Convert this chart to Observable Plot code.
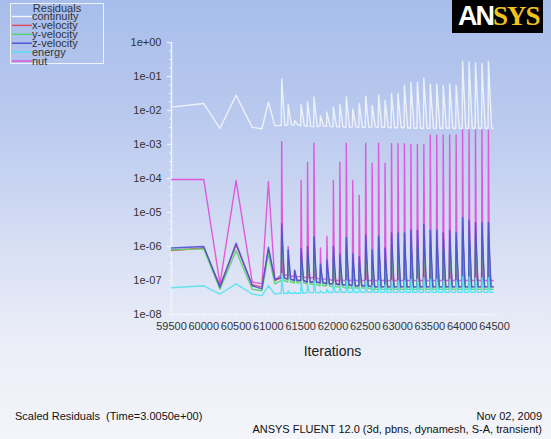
<!DOCTYPE html>
<html><head><meta charset="utf-8">
<script src="https://cdn.jsdelivr.net/npm/d3@7"></script>
<script src="https://cdn.jsdelivr.net/npm/@observablehq/plot@0.6"></script>
<style>
html,body{margin:0;padding:0;}
body{width:551px;height:439px;overflow:hidden;position:relative;font-family:"Liberation Sans",Arial,sans-serif;
 background:linear-gradient(to bottom,#a7bdeb 0%,#bccbef 30%,#d6def4 55%,#ebeef8 78%,#f4f5fa 100%);}
#chart{position:absolute;left:0;top:0;}
#chart svg{background:transparent;}
.abs{position:absolute;white-space:nowrap;}
#legend{position:absolute;left:10px;top:3px;width:92px;height:59px;border:1px solid #eef2fb;}
#logo{position:absolute;left:452px;top:0;width:91px;height:33px;background:#000;}
#logo span{position:absolute;top:3px;font-weight:bold;font-size:27px;line-height:27px;}
</style></head>
<body>
<div id="chart"></div>
<div id="legend"></div>
<div id="logo"><span style="left:6px;color:#fff;font-family:'Liberation Sans';letter-spacing:-2px">AN</span><span style="left:41px;color:#f2c31c;font-family:'Liberation Serif';letter-spacing:-1px">SYS</span></div>
<div class="abs" style="left:0;width:551px;top:343px;text-align:center;padding-left:114px;box-sizing:border-box;font-size:14px;color:#222">Iterations</div>
<div class="abs" style="left:15px;top:410px;font-size:11px;color:#111">Scaled Residuals&nbsp; (Time=3.0050e+00)</div>
<div class="abs" style="right:9px;top:410px;font-size:11px;color:#111">Nov 02, 2009</div>
<div class="abs" style="right:9px;top:423px;font-size:11px;color:#111">ANSYS FLUENT 12.0 (3d, pbns, dynamesh, S-A, transient)</div>
<script>
// ---- series ----
const seriesNames = ["continuity","x-velocity","y-velocity","z-velocity","energy","nut"];
const seriesColors = ["#f3f5fb","#e0475d","#55d26e","#4a4fd6","#52e2ee","#e04cd9"];
const drawOrder = ["nut","continuity","x-velocity","y-velocity","z-velocity","energy"];

// ---- early (coarse) history ----
const earlyIter = [59500, 60000, 60250, 60500, 60750, 60900, 61000, 61100];
const earlyContinuity = [1.26e-2, 1.6e-2, 3.0e-3, 2.8e-2, 3.2e-3, 2.9e-3, 1.75e-2, 3.6e-3];
const earlyXvel = [7.6e-7, 9.0e-7, 7.0e-8, 1.1e-6, 7.5e-8, 6.5e-8, 8.0e-7, 1.0e-7];
const earlyYvel = [8.0e-7, 8.5e-7, 5.5e-8, 7.5e-7, 5.5e-8, 5.0e-8, 6.0e-7, 8.0e-8];
const earlyZvel = [9.0e-7, 1.0e-6, 6.3e-8, 1.25e-6, 7.0e-8, 5.7e-8, 9.5e-7, 1.1e-7];
const earlyEnergy = [6.1e-8, 7.0e-8, 4.0e-8, 8.0e-8, 4.0e-8, 3.6e-8, 7.0e-8, 4.0e-8];
const earlyNut = [9.3e-5, 9.3e-5, 8.0e-8, 8.7e-5, 9.0e-8, 8.0e-8, 8.0e-5, 1.0e-7];

// ---- time steps (one spike per step) ----
const stepIter = [61200,61300,61400,61500,61600,61700,61800,61900,62000,62100,62200,62300,62400,62500,62600,62700,62800,62900,63000,63100,63200,63300,63400,63500,63600,63700,63800,63900,64000,64100,64200,64300,64400];
const endIter = 64480;
const peakContinuity = [0.085,0.015,0.005,0.015,0.018,0.025,0.007,0.009,0.0125,0.015,0.025,0.011,0.016,0.026,0.014,0.028,0.02,0.032,0.032,0.055,0.068,0.068,0.089,0.06,0.06,0.055,0.06,0.055,0.28,0.27,0.25,0.24,0.28];
const floorContinuity = [0.0036,0.0038,0.0038,0.0036,0.0034,0.0033,0.0035,0.0034,0.0033,0.0033,0.0032,0.0033,0.0032,0.0032,0.0033,0.0032,0.0032,0.0031,0.0031,0.0031,0.003,0.003,0.003,0.003,0.003,0.003,0.003,0.003,0.003,0.003,0.003,0.003,0.003];
const peakZvel = [4.6e-6,8e-7,2e-7,8.6e-7,1e-6,1.9e-6,3e-7,4e-7,1e-6,6e-7,1.8e-6,6e-7,5e-7,2.2e-6,8e-7,2e-6,9e-7,2.5e-6,2.5e-6,2.5e-6,3e-6,3e-6,4.5e-6,3e-6,3e-6,2.5e-6,3e-6,2.5e-6,7e-6,6e-6,5e-6,5e-6,5e-6];
const peakXvel = [2.5e-6,4e-7,1.5e-7,5e-7,6e-7,9e-7,2e-7,2.5e-7,5e-7,3.5e-7,9e-7,3.5e-7,3e-7,1e-6,4e-7,9e-7,4.5e-7,1.1e-6,1.1e-6,1.2e-6,1.3e-6,1.3e-6,1.8e-6,1.3e-6,1.3e-6,1.1e-6,1.3e-6,1.1e-6,2.8e-6,2.5e-6,2.2e-6,2.2e-6,2.2e-6];
const peakYvel = [2e-6,3e-7,1.3e-7,4e-7,4.5e-7,7e-7,1.7e-7,2e-7,4e-7,3e-7,7e-7,3e-7,2.5e-7,8e-7,3.5e-7,7e-7,3.5e-7,8e-7,8e-7,9e-7,1e-6,1e-6,1.4e-6,1e-6,1e-6,9e-7,1e-6,9e-7,2.2e-6,2e-6,1.8e-6,1.8e-6,1.8e-6];
const floorVel = [1.2e-7,1.1e-7,1e-7,1e-7,9e-8,9e-8,8.5e-8,8e-8,8e-8,7.5e-8,7.5e-8,7e-8,7e-8,7e-8,6.5e-8,6.5e-8,6.5e-8,6.5e-8,6.5e-8,6.5e-8,6.5e-8,6.5e-8,6.5e-8,6.5e-8,6.5e-8,6.5e-8,6.5e-8,6.5e-8,6.5e-8,6.5e-8,6.5e-8,6.5e-8,6.5e-8];
const floorYvel = [1e-7,9e-8,8.5e-8,8.5e-8,8e-8,7.5e-8,7e-8,7e-8,6.5e-8,6.5e-8,6e-8,6e-8,6e-8,6e-8,5.5e-8,5.5e-8,5.5e-8,5.5e-8,5.5e-8,5.5e-8,5.5e-8,5.5e-8,5.5e-8,5.5e-8,5.5e-8,5.5e-8,5.5e-8,5.5e-8,5.5e-8,5.5e-8,5.5e-8,5.5e-8,5.5e-8];
const peakEnergy = [1.6e-7,5e-8,4.5e-8,9e-8,8e-8,1e-7,5e-8,5.5e-8,8e-8,7e-8,1e-7,7e-8,6.5e-8,1e-7,7e-8,1e-7,7.5e-8,1e-7,1e-7,1e-7,1.1e-7,1.1e-7,1.2e-7,1.1e-7,1.1e-7,1e-7,1.1e-7,1e-7,1.3e-7,1.3e-7,1.2e-7,1.2e-7,1.2e-7];
const floorEnergy = [4.2e-8,4.2e-8,4.2e-8,4.2e-8,4.4e-8,4.4e-8,4.4e-8,4.4e-8,4.5e-8,4.5e-8,4.5e-8,4.5e-8,4.5e-8,4.5e-8,4.5e-8,4.5e-8,4.5e-8,4.5e-8,4.5e-8,4.5e-8,4.5e-8,4.5e-8,4.5e-8,4.5e-8,4.5e-8,4.5e-8,4.5e-8,4.5e-8,4.5e-8,4.5e-8,4.5e-8,4.5e-8,4.5e-8];
const peakNut = [1.2e-3,1e-6,2e-7,8.7e-5,3e-4,1.1e-3,9e-7,2e-6,8.7e-5,3e-4,1.1e-3,8.7e-5,3.2e-5,1.1e-3,2.8e-4,1.1e-3,2.8e-4,1.05e-3,1.05e-3,1.05e-3,1e-3,1e-3,1e-3,1.9e-3,1.9e-3,1.9e-3,1.9e-3,1.9e-3,2.7e-3,2.7e-3,2.7e-3,2.7e-3,2.6e-3];
const floorNut = [1.5e-7,1.4e-7,1.3e-7,1.3e-7,1.2e-7,1.2e-7,1.1e-7,1.1e-7,1e-7,1e-7,1e-7,1e-7,1e-7,1e-7,1e-7,1e-7,1e-7,1e-7,1e-7,1e-7,1e-7,1e-7,1e-7,1e-7,1e-7,1e-7,1e-7,1e-7,1e-7,1e-7,1e-7,1e-7,1e-7];

// iterations after step start at which the residual reaches its peak / settles
const riseLag = 6;
const settleLag = {"continuity":55,"x-velocity":45,"y-velocity":45,"z-velocity":45,"energy":35,"nut":22};

// ---- axes ----
const xTicks = [59500,60000,60500,61000,61500,62000,62500,63000,63500,64000,64500];
const xTickLabels = ["59500","60000","60500","61000","61500","62000","62500","63000","63500","64000","64500"];
const xMinor = d3.range(59500, 64501, 100);
const yTicks = [1,1e-1,1e-2,1e-3,1e-4,1e-5,1e-6,1e-7,1e-8];
const yTickLabels = ["1e+00","1e-01","1e-02","1e-03","1e-04","1e-05","1e-06","1e-07","1e-08"];

const series = {
  "continuity": [earlyContinuity, peakContinuity, floorContinuity],
  "x-velocity": [earlyXvel, peakXvel, floorVel],
  "y-velocity": [earlyYvel, peakYvel, floorYvel],
  "z-velocity": [earlyZvel, peakZvel, floorVel],
  "energy": [earlyEnergy, peakEnergy, floorEnergy],
  "nut": [earlyNut, peakNut, floorNut]
};

const rows = [];
for (const name of drawOrder) {
  const [early, peak, floor] = series[name];
  earlyIter.forEach((it, i) => rows.push({series: name, iter: it, value: early[i]}));
  stepIter.forEach((it, i) => {
    rows.push({series: name, iter: it, value: floor[i]});
    rows.push({series: name, iter: it + riseLag, value: peak[i]});
    rows.push({series: name, iter: it + settleLag[name], value: floor[i]});
  });
  rows.push({series: name, iter: endIter, value: floor[floor.length - 1]});
}

// minor y ticks: quarter decades
const yMinor = [];
for (let e = 0; e > -8; e--) for (const f of [0.25, 0.5, 0.75]) yMinor.push(Math.pow(10, e - f));

const yFmt = d => { const k = yTicks.findIndex(t => Math.abs(Math.log10(t) - Math.log10(d)) < 1e-6); return k < 0 ? "" : yTickLabels[k]; };
const xFmt = d => { const k = xTicks.indexOf(d); return k < 0 ? "" : xTickLabels[k]; };

const axisColor = "#f0f3fa";
const chart = Plot.plot({
  width: 551, height: 439,
  marginLeft: 171, marginRight: 57, marginTop: 42, marginBottom: 125,
  style: {background: "transparent", fontFamily: "'Liberation Sans', Arial, sans-serif"},
  x: {domain: [59500, 64500], label: null},
  y: {type: "log", domain: [1e-8, 1], label: null},
  color: {domain: seriesNames, range: seriesColors},
  marks: [
    Plot.axisY(yMinor, {tickSize: 2, text: null, stroke: axisColor, strokeWidth: 1.2, label: null}),
    Plot.axisY(yTicks, {tickSize: 4, tickPadding: 6, tickFormat: yFmt, stroke: axisColor, strokeWidth: 1.2, fill: "#333", fontSize: 11, label: null}),
    Plot.axisX(xMinor, {tickSize: 2, text: null, stroke: axisColor, strokeWidth: 1.2, label: null}),
    Plot.axisX(xTicks, {tickSize: 4, tickPadding: 4, tickFormat: xFmt, stroke: axisColor, strokeWidth: 1.2, fill: "#333", fontSize: 11, label: null}),
    Plot.ruleX([59500], {stroke: axisColor, strokeWidth: 1.5}),
    Plot.ruleY([1e-8], {stroke: axisColor, strokeWidth: 1.5}),
    Plot.line(rows, {x: "iter", y: "value", z: "series", stroke: "series", strokeWidth: 1.4, strokeOpacity: 0.9, curve: "linear"})
  ]
});
document.getElementById("chart").appendChild(chart);

// legend
const lg = d3.select("#legend").append("svg").attr("width", 92).attr("height", 59).style("overflow", "visible");
lg.append("text").attr("x", 46).attr("y", 8).attr("text-anchor", "middle").attr("font-size", 11).attr("fill", "#333").text("Residuals");
seriesNames.forEach((n, i) => {
  const y = 12.5 + i * 8.9;
  lg.append("line").attr("x1", 1).attr("x2", 21).attr("y1", y).attr("y2", y).attr("stroke", seriesColors[i]).attr("stroke-width", 1.4);
  lg.append("text").attr("x", 21).attr("y", y + 3.5).attr("font-size", 11).attr("fill", "#333").text(n);
});
</script>
</body></html>
